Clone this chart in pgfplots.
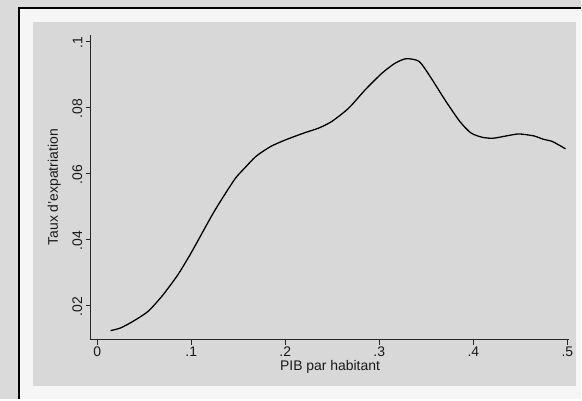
\documentclass[border=0pt]{standalone}
\usepackage{pgfplots}
\pgfplotsset{compat=1.18}
\usepackage{fontspec}
\setmainfont{Liberation Sans}
\definecolor{outerbg}{RGB}{218,218,218}
\definecolor{band}{RGB}{246,246,246}
\definecolor{panel}{RGB}{216,216,216}
\begin{document}
\begin{tikzpicture}
% page background, frame and plot region
\fill[outerbg] (0bp,0bp) rectangle (582bp,400bp);
\fill[band] (19bp,0bp) rectangle (582bp,392bp);
\draw[black,line width=1.6bp] (19bp,0bp) -- (19bp,392bp) -- (582bp,392bp);
\fill[panel] (33bp,13bp) rectangle (577bp,378bp);
\begin{axis}[
  at={(91bp,60bp)}, anchor=south west,
  scale only axis,
  width=479bp, height=305bp,
  xmin=-0.0067, xmax=0.502,
  ymin=0.0097, ymax=0.102,
  axis x line*=bottom, axis y line*=left,
  axis line style={black!85, line width=0.9bp, -},
  xtick={0,0.1,0.2,0.3,0.4,0.5},
  xticklabels={0,.1,.2,.3,.4,.5},
  ytick={0.02,0.04,0.06,0.08,0.1},
  yticklabels={.02,.04,.06,.08,.1},
  tick align=outside,
  major tick length=5bp,
  tick style={black!85, line width=0.8bp},
  /pgf/number format/assume math mode=true,
  ticklabel style={font=\fontsize{14}{15}\selectfont, text=black!90},
  xticklabel style={yshift=1bp},
  yticklabel style={rotate=90, anchor=south, xshift=-1bp},
  xlabel={PIB par habitant},
  ylabel={Taux d'expatriation},
  label style={font=\fontsize{14}{15}\selectfont, text=black!90},
  xlabel style={yshift=3bp},
  ylabel style={yshift=5bp},
  clip=false,
]
\addplot[black, line width=1.3bp, smooth, tension=0.4] coordinates {
  (0.0142,0.0124) (0.0248,0.0132) (0.0386,0.0153) (0.0544,0.0183)
  (0.0702,0.0233) (0.0860,0.0294) (0.0998,0.0359) (0.1136,0.0430)
  (0.1234,0.0480) (0.1333,0.0526) (0.1471,0.0586) (0.1570,0.0617)
  (0.1688,0.0652) (0.1845,0.0682) (0.2003,0.0702) (0.2200,0.0723)
  (0.2358,0.0738) (0.2496,0.0758) (0.2674,0.0798) (0.2851,0.0854)
  (0.3028,0.0904) (0.3166,0.0934) (0.3285,0.0948) (0.3423,0.0940)
  (0.3541,0.0894) (0.3699,0.0823) (0.3856,0.0758) (0.3975,0.0723)
  (0.4093,0.0710) (0.4211,0.0707) (0.4369,0.0715) (0.4487,0.0720)
  (0.4645,0.0714) (0.4743,0.0704) (0.4842,0.0697) (0.4980,0.0675)
};
\end{axis}
\end{tikzpicture}
\end{document}
